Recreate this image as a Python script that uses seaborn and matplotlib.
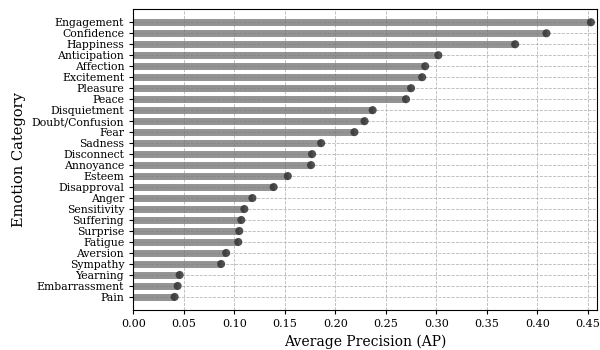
import matplotlib
matplotlib.use("Agg")
import matplotlib.pyplot as plt
import seaborn as sns
import pandas as pd

# Emotion categories, top to bottom
categories = [
    "Engagement", "Confidence", "Happiness", "Anticipation", "Affection",
    "Excitement", "Pleasure", "Peace", "Disquietment", "Doubt/Confusion",
    "Fear", "Sadness", "Disconnect", "Annoyance", "Esteem", "Disapproval",
    "Anger", "Sensitivity", "Suffering", "Surprise", "Fatigue", "Aversion",
    "Sympathy", "Yearning", "Embarrassment", "Pain",
]
ap_values = [
    0.453, 0.409, 0.378, 0.302, 0.289, 0.286, 0.275, 0.270, 0.237, 0.229,
    0.219, 0.186, 0.177, 0.176, 0.153, 0.139, 0.118, 0.110, 0.107, 0.105,
    0.104, 0.092, 0.087, 0.046, 0.044, 0.041,
]
x_ticks = [0.00, 0.05, 0.10, 0.15, 0.20, 0.25, 0.30, 0.35, 0.40, 0.45]

df = pd.DataFrame({"Emotion": categories, "AP": ap_values})
df["pos"] = range(len(df))

sns.set_style("ticks")
plt.rcParams["font.family"] = ["DejaVu Serif"]
plt.rcParams["text.color"] = "black"
plt.rcParams["axes.labelcolor"] = "black"
plt.rcParams["xtick.color"] = "black"
plt.rcParams["ytick.color"] = "black"

fig, ax = plt.subplots(figsize=(6, 3.5), dpi=100)

# grid first so it shows through the bars
ax.grid(True, linestyle="--", linewidth=0.6, color="#b0b0b0", alpha=0.9)
ax.set_axisbelow(True)

# lollipop stems
ax.hlines(df["pos"], 0, df["AP"], color="#787878", linewidth=5, alpha=0.8, zorder=2)
sns.scatterplot(data=df, x="AP", y="pos", ax=ax, color="#333333", s=34,
                alpha=0.85, edgecolor="none", zorder=3, legend=False)

ax.set_yticks(df["pos"])
ax.set_yticklabels(df["Emotion"], fontsize=7.8)
ax.set_ylim(len(df) - 1 + 1.2, -1.2)
ax.set_xticks(x_ticks)
ax.set_xticklabels([f"{t:.2f}" for t in x_ticks], fontsize=8)
ax.set_xlim(0, 0.459)
ax.tick_params(length=3, width=0.8)

ax.set_xlabel("Average Precision (AP)", fontsize=10)
ax.set_ylabel("Emotion Category", fontsize=10.5)

for s in ax.spines.values():
    s.set_visible(True)
    s.set_color("black")

fig.subplots_adjust(left=0.222, right=0.995, top=0.974, bottom=0.114)
fig.savefig("out.png", dpi=100)
